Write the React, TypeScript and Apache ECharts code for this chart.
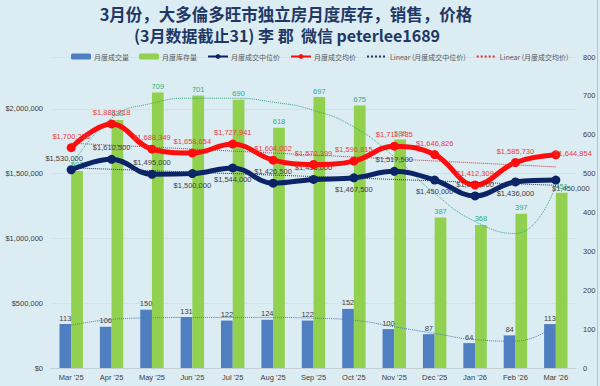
import React, { useEffect, useRef } from 'react';
import * as echarts from 'echarts';

const categories = ["Mar '25", "Apr '25", "May '25", "Jun '25", "Jul '25", "Aug '25", "Sep '25", "Oct '25", "Nov '25", "Dec '25", "Jan '26", "Feb '26", "Mar '26"];
const salesVolume = [113, 106, 150, 131, 122, 124, 122, 152, 100, 87, 64, 84, 113];
const inventory = [507, 638, 709, 701, 690, 618, 697, 675, 588, 387, 368, 397, 451];
const medianPrice = [1530000, 1610500, 1495000, 1500000, 1544000, 1426500, 1455000, 1467500, 1517500, 1450000, 1328000, 1436000, 1450000];
const averagePrice = [1700238, 1883718, 1688349, 1658654, 1727941, 1604002, 1570399, 1596815, 1711735, 1646826, 1412309, 1585730, 1644854];
const medianTrend = [1545000, null, null, null, null, null, null, null, null, null, null, null, 1410000];
const averageTrend = [1735000, null, null, null, null, null, null, null, null, null, null, null, 1552000];
const inventoryTrend = [518, 643, 681, 694, 694, 684, 663, 620, 543, 449, 377, 346, 470];
const volumeTrend = [110, 125, 129, 130, 130, 130, 128, 123, 106, 89, 73, 69, 111];

const priceAxisMax = 2400000;
const priceAxisStep = 500000;
const countAxisMax = 800;
const countAxisStep = 100;

const titleLine1 = '3月份，大多倫多旺市独立房月度库存，销售，价格';
const titleLine2 = '(3月数据截止31) 李 郡  微信 peterlee1689';

const NAMES = ['月度成交量', '月度库存量', '月度成交中位价', '月度成交均价', 'Linear (月度成交中位价)', 'Linear (月度成交均价)'];

// label placement (style only)
const medianLabelPos = ['top', 'top', 'top', 'bottom', 'bottom', 'top', 'top', 'bottom', 'top', 'bottom', 'top', 'bottom', 'bottom'];
const LABEL_FONT = "'Liberation Sans Narrow', 'Liberation Sans', Arial, sans-serif";

const money = (v: number) => '$' + Math.round(v).toLocaleString('en-US');

export default function App() {
  const ref = useRef<HTMLDivElement>(null);
  useEffect(() => {
    if (!ref.current) return;
    const chart = echarts.init(ref.current, undefined, { renderer: 'svg' });
    const n = categories.length;
    const medianData = medianPrice.map((v, i) => {
      const pos = medianLabelPos[i];
      let offset = [0, 0];
      if (i === 0) offset = [-7, 0];
      if (i === n - 1) offset = [15, -3];
      return { value: v, label: { position: pos, offset } };
    });
    const avgData = averagePrice.map((v, i) => {
      if (i === n - 1) return { value: v, label: { position: 'right', offset: [-9, -1] } };
      return { value: v };
    });
    const legendData = NAMES.map((name, i) => (i >= 4 ? { name, itemStyle: { opacity: 0 } } : { name }));
    const option: any = {
      animation: false,
      backgroundColor: '#DCECF3',
      graphic: [
        {
          type: 'text',
          style: {
            text: titleLine1, x: 286, y: 14, align: 'center', verticalAlign: 'middle',
            textAlign: 'center', textVerticalAlign: 'middle',
            fill: '#1F3864', font: "bold 16.5px 'Noto Sans CJK SC', sans-serif",
          },
        },
        {
          type: 'text',
          style: {
            text: titleLine2, x: 287, y: 35, align: 'center', verticalAlign: 'middle',
            textAlign: 'center', textVerticalAlign: 'middle',
            fill: '#1F3864', font: "bold 16px 'Noto Sans CJK SC', sans-serif",
          },
        },
        {
          type: 'line',
          shape: { x1: 597.5, y1: 0, x2: 597.5, y2: 386 },
          style: { stroke: '#b8c4ca', lineWidth: 1 },
        },
      ],
      legend: {
        data: legendData,
        left: 66,
        top: 48,
        itemWidth: 20,
        itemHeight: 6,
        itemGap: 10,
        textStyle: { fontSize: 7, color: '#595959', fontFamily: "'Noto Sans CJK SC', sans-serif", padding: [0, 0, 0, -2] },
      },
      grid: { left: 51, right: 24, top: 57, bottom: 18, containLabel: false },
      xAxis: {
        type: 'category',
        data: categories,
        axisTick: { show: false },
        axisLine: { show: true, lineStyle: { color: '#c4cfd4' } },
        axisLabel: { fontSize: 7.5, color: '#404040', margin: 5, fontFamily: LABEL_FONT },
      },
      yAxis: [
        {
          type: 'value',
          min: 0,
          max: priceAxisMax,
          interval: priceAxisStep,
          axisLine: { show: false },
          axisTick: { show: false },
          axisLabel: {
            fontSize: 7.5, color: '#404040', margin: 8, fontFamily: LABEL_FONT,
            formatter: (v: number) => (v > 2000000 ? '' : money(v)),
          },
          splitLine: { show: true, lineStyle: { color: '#d0e2ea', width: 1 } },
        },
        {
          type: 'value',
          min: 0,
          max: countAxisMax,
          interval: countAxisStep,
          axisLine: { show: false },
          axisTick: { show: false },
          axisLabel: { fontSize: 7.5, color: '#404040', margin: 7, fontFamily: LABEL_FONT },
          splitLine: { show: false },
        },
      ],
      series: [
        {
          name: NAMES[0],
          type: 'bar',
          yAxisIndex: 1,
          data: salesVolume,
          barWidth: '29%',
          barGap: '0%',
          itemStyle: { color: '#4F7FC0' },
          label: { show: true, position: 'top', distance: 2, fontSize: 7.5, color: '#404040', fontFamily: LABEL_FONT },
          z: 1,
        },
        {
          name: NAMES[1],
          type: 'bar',
          yAxisIndex: 1,
          data: inventory,
          barWidth: '29%',
          barGap: '0%',
          itemStyle: { color: '#92D050' },
          label: { show: true, position: 'top', distance: 2, fontSize: 7.5, color: '#2EAF78', fontFamily: LABEL_FONT },
          z: 1,
        },
        {
          name: 'inventoryTrend',
          type: 'line',
          yAxisIndex: 1,
          data: inventoryTrend,
          smooth: 0.5,
          symbol: 'none',
          lineStyle: { color: '#3AA57A', width: 1, type: 'dotted' },
          z: 3,
        },
        {
          name: 'volumeTrend',
          type: 'line',
          yAxisIndex: 1,
          data: volumeTrend,
          smooth: 0.5,
          symbol: 'none',
          lineStyle: { color: '#4A7EBB', width: 1, type: 'dotted' },
          z: 3,
        },
        {
          name: NAMES[2],
          type: 'line',
          yAxisIndex: 0,
          data: medianData,
          smooth: 0.4,
          symbol: 'circle',
          symbolSize: 9,
          itemStyle: { color: '#0B2466' },
          lineStyle: { color: '#0B2466', width: 5 },
          label: {
            show: true, fontSize: 7.5, color: '#404040', fontFamily: LABEL_FONT, distance: 3,
            formatter: (p: any) => money(p.value),
          },
          z: 5,
        },
        {
          name: NAMES[3],
          type: 'line',
          yAxisIndex: 0,
          data: avgData,
          smooth: 0.4,
          symbol: 'circle',
          symbolSize: 9,
          itemStyle: { color: '#FF0D0D' },
          lineStyle: { color: '#FF0D0D', width: 5 },
          label: {
            show: true, position: 'top', fontSize: 7.5, color: '#EE3B3B', fontFamily: LABEL_FONT, distance: 3,
            formatter: (p: any) => money(p.value),
          },
          z: 6,
        },
        {
          name: NAMES[4],
          type: 'line',
          yAxisIndex: 0,
          data: medianTrend,
          connectNulls: true,
          symbol: 'none',
          lineStyle: { color: '#1F3864', width: 1, type: 'dotted' },
          z: 7,
        },
        {
          name: NAMES[5],
          type: 'line',
          yAxisIndex: 0,
          data: averageTrend,
          connectNulls: true,
          symbol: 'none',
          lineStyle: { color: '#E23030', width: 1, type: 'dotted' },
          z: 7,
        },
      ],
    };
    chart.setOption(option);
    return () => chart.dispose();
  }, []);
  return <div ref={ref} style={{ position: 'absolute', left: 0, top: 0, width: 600, height: 386 }} />;
}
